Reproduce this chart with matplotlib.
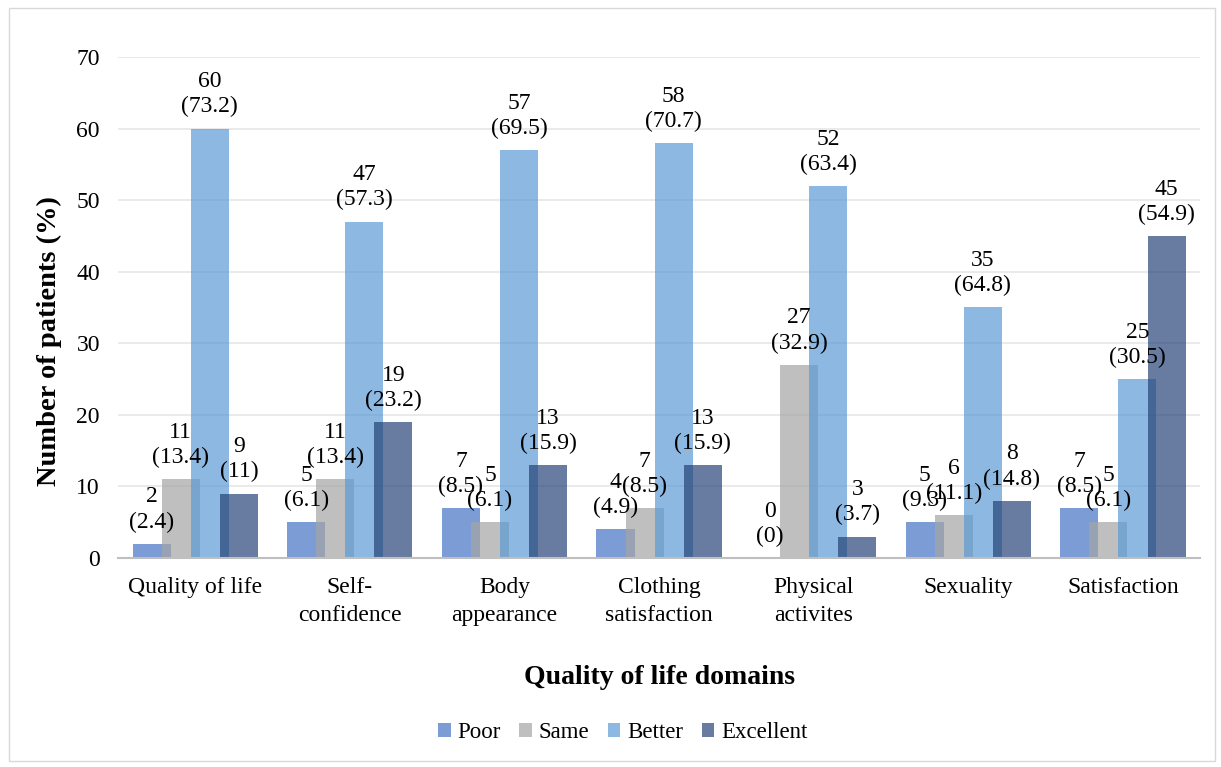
import numpy as np
import matplotlib
matplotlib.use("Agg")
import matplotlib.pyplot as plt
from matplotlib.patches import Rectangle

plt.rcParams['font.family'] = ['Liberation Serif', 'DejaVu Serif']

categories = ["Quality of life", "Self-\nconfidence", "Body\nappearance", "Clothing\nsatisfaction",
              "Physical\nactivites", "Sexuality", "Satisfaction"]
series = ["Poor", "Same", "Better", "Excellent"]
counts = {
    "Poor":      [2, 5, 7, 4, 0, 5, 7],
    "Same":      [11, 11, 5, 7, 27, 6, 5],
    "Better":    [60, 47, 57, 58, 52, 35, 25],
    "Excellent": [9, 19, 13, 13, 3, 8, 45],
}
percents = {
    "Poor":      ["2.4", "6.1", "8.5", "4.9", "0", "9.3", "8.5"],
    "Same":      ["13.4", "13.4", "6.1", "8.5", "32.9", "11.1", "6.1"],
    "Better":    ["73.2", "57.3", "69.5", "70.7", "63.4", "64.8", "30.5"],
    "Excellent": ["11", "23.2", "15.9", "15.9", "3.7", "14.8", "54.9"],
}
colors = {"Poor": "#4472C4", "Same": "#A5A5A5", "Better": "#5B9BD5", "Excellent": "#264478"}

fig = plt.figure(figsize=(12.21, 7.67), dpi=100)
ax = fig.add_axes([0.0966, 0.2725, 0.8864, 0.6532])

x = np.arange(len(categories))
width = 0.246
step = 0.188
for i, s in enumerate(series):
    pos = x + (i - 1.5) * step
    ax.bar(pos, counts[s], width=width, color=colors[s], alpha=0.7, label=s, zorder=2)
    for px, v, p in zip(pos, counts[s], percents[s]):
        ax.annotate(f"{v}\n({p})", (px, v), xytext=(0, 8), textcoords="offset points",
                    ha="center", va="bottom", fontsize=17, linespacing=1.25, zorder=3)

ax.set_xlim(-0.5, len(categories) - 0.5)
ax.set_ylim(0, 70)
ax.set_yticks(np.arange(0, 71, 10))
ax.set_xticks(x)
ax.set_xticklabels(categories, fontsize=17, linespacing=1.4)
ax.tick_params(axis="y", labelsize=17, length=0, pad=13)
ax.tick_params(axis="x", length=0, pad=14)
ax.grid(axis="y", color="#E6E6E6", linewidth=1.2, zorder=0)
for sp in ["top", "right", "left"]:
    ax.spines[sp].set_visible(False)
ax.spines["bottom"].set_color("#BFBFBF")
ax.spines["bottom"].set_linewidth(1.5)

ax.set_ylabel("Number of patients (%)", fontsize=20.5, fontweight="bold")
ax.yaxis.set_label_coords(-0.052, 0.433)
ax.set_xlabel("Quality of life domains", fontsize=20, fontweight="bold", labelpad=28)

leg = fig.legend(loc="center", bbox_to_anchor=(0.51, 0.045), ncol=4, frameon=False,
                 fontsize=16.5, handlelength=0.55, handleheight=0.55, handletextpad=0.3,
                 columnspacing=0.8)

fig.patches.append(Rectangle((0.007, 0.008), 0.988, 0.982, transform=fig.transFigure,
                             fill=False, edgecolor="#D9D9D9", linewidth=1))

fig.savefig("out.png", dpi=100)
